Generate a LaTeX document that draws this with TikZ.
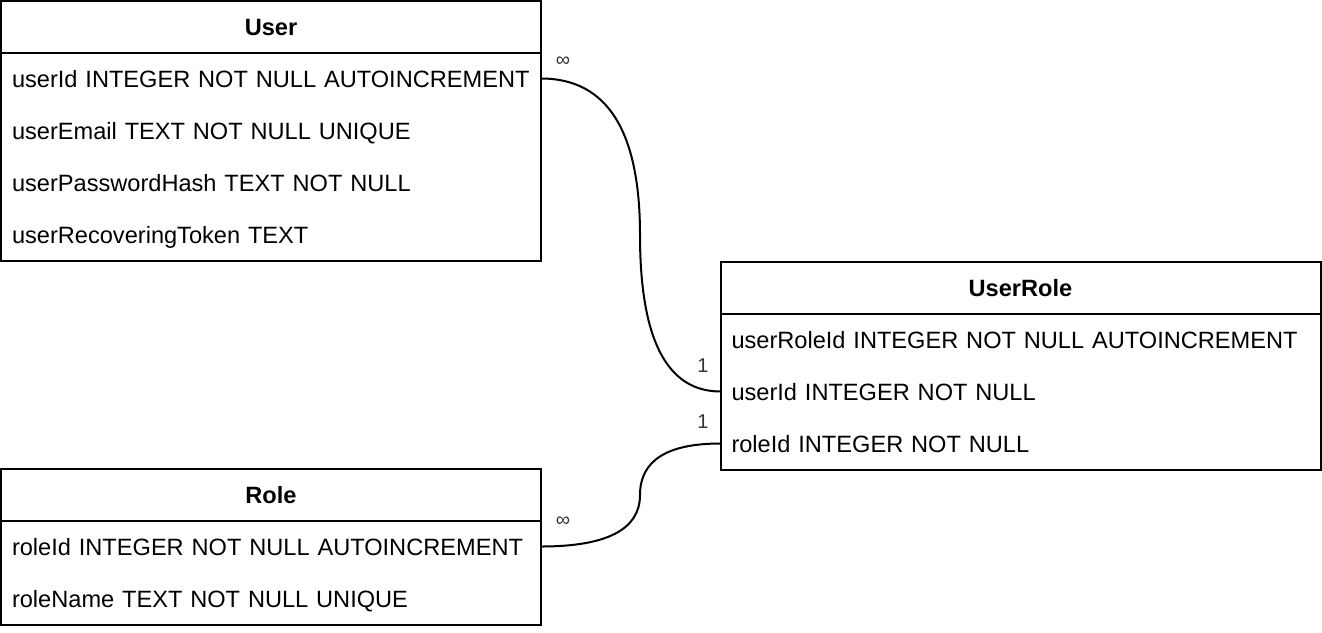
\documentclass[tikz,border=0pt]{standalone}
\usepackage{fontspec}
\setmainfont{Liberation Sans}
\usepackage{tikz}
\usetikzlibrary{positioning,calc}
\tikzstyle{tablehead} = [rectangle, draw=black, line width=1pt, outer sep=0pt, minimum height=26pt, text height=9.8pt, text depth=1.2pt, font=\fontsize{11.8}{14}\selectfont\bfseries, inner sep=0pt]
\tikzstyle{field} = [rectangle, minimum height=26pt, text height=10.1pt, text depth=0.9pt, inner xsep=5.5pt, inner ysep=0pt, outer sep=0pt, align=left, font=\fontsize{11.8}{14}\selectfont]
\tikzstyle{link} = [line width=1pt, black]
\tikzstyle{card} = [font=\fontsize{10}{12}\selectfont, text=black!80, inner sep=0pt]

\begin{document}
\begin{tikzpicture}[x=0.5pt, y=-0.5pt]
\useasboundingbox (0,0) rectangle (1322,632);

% User
\node[tablehead, minimum width=270pt] (user) at (271,26.5) {User};
\node[field, text width=259pt, below=0pt of user] (userId) {userId INTEGER NOT NULL AUTOINCREMENT};
\node[field, text width=259pt, below=0pt of userId] (userEmail) {userEmail TEXT NOT NULL UNIQUE};
\node[field, text width=259pt, below=0pt of userEmail] (userHash) {userPasswordHash TEXT NOT NULL};
\node[field, text width=259pt, below=0pt of userHash] (userToken) {userRecoveringToken TEXT};
\draw[line width=1pt] (user.north west) rectangle (userToken.south east);

% UserRole
\node[tablehead, minimum width=300pt] (userRole) at (1020.5,287.5) {UserRole};
\node[field, text width=289pt, below=0pt of userRole] (urId) {userRoleId INTEGER NOT NULL AUTOINCREMENT};
\node[field, text width=289pt, below=0pt of urId] (urUserId) {userId INTEGER NOT NULL};
\node[field, text width=289pt, below=0pt of urUserId] (urRoleId) {roleId INTEGER NOT NULL};
\draw[line width=1pt] (userRole.north west) rectangle (urRoleId.south east);

% Role
\node[tablehead, minimum width=270pt] (role) at (271,494.5) {Role};
\node[field, text width=259pt, below=0pt of role] (roleId) {roleId INTEGER NOT NULL AUTOINCREMENT};
\node[field, text width=259pt, below=0pt of roleId] (roleName) {roleName TEXT NOT NULL UNIQUE};
\draw[line width=1pt] (role.north west) rectangle (roleName.south east);

% relations
\coordinate (bus) at (640,0);
\path (userId.east -| bus) coordinate (ua) (urUserId.west -| bus) coordinate (ub)
      ($(ua)!.5!(ub)$) coordinate (um);
\draw[link] (userId.east) .. controls ($(userId.east)!2/3!(ua)$) and ($(um)!2/3!(ua)$) .. (um)
            .. controls ($(um)!2/3!(ub)$) and ($(urUserId.west)!2/3!(ub)$) .. (urUserId.west);
\path (roleId.east -| bus) coordinate (ra) (urRoleId.west -| bus) coordinate (rb)
      ($(ra)!.5!(rb)$) coordinate (rm);
\draw[link] (roleId.east) .. controls ($(roleId.east)!2/3!(ra)$) and ($(rm)!2/3!(ra)$) .. (rm)
            .. controls ($(rm)!2/3!(rb)$) and ($(urRoleId.west)!2/3!(rb)$) .. (urRoleId.west);

\node[card] (userMany) at (563,62) {∞};
\node[card] (userOne) at (703,366) {1};
\node[card] (roleOne) at (703,422) {1};
\node[card] (roleMany) at (563,522) {∞};
\end{tikzpicture}
\end{document}
